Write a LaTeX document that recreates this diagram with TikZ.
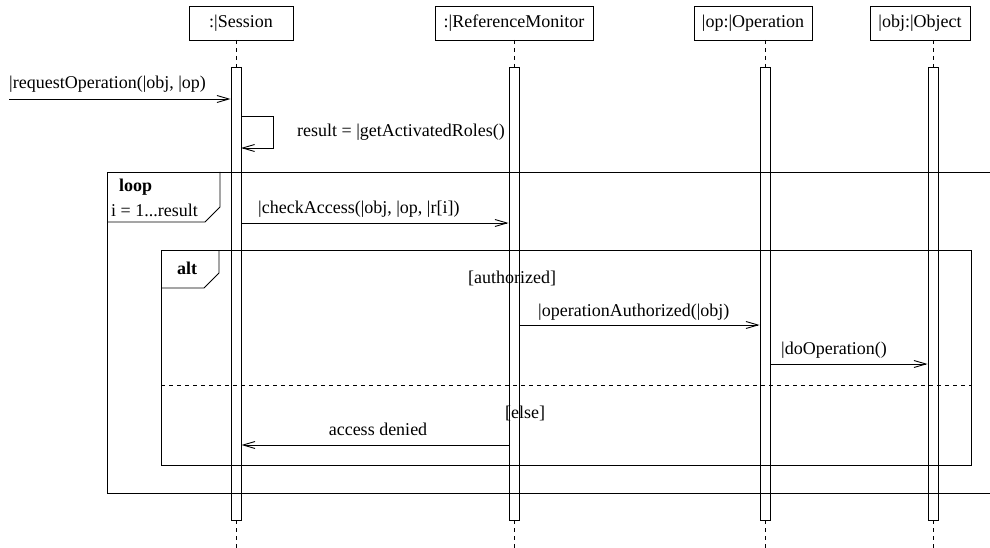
\documentclass[tikz,border=0pt]{standalone}
\usepackage{fontspec}
\setmainfont{Liberation Serif}
\usetikzlibrary{arrows.meta}
\begin{document}
\begin{tikzpicture}[x=1pt,y=-1pt,
  every node/.style={font=\fontsize{18}{20}\selectfont, inner sep=0pt},
  head/.style={draw, line width=0.9pt, minimum height=34pt, inner xsep=4pt},
  bar/.style={draw, line width=0.9pt},
  life/.style={line width=0.9pt, dash pattern=on 4pt off 4pt},
  msg/.style={line width=0.9pt, -{Straight Barb[length=12pt,width=7pt]}},
  frame/.style={line width=0.9pt},
  lbl/.style={anchor=base west},
  guard/.style={anchor=base},
  kw/.style={anchor=base west, font=\fontsize{18}{20}\selectfont\bfseries}]
\useasboundingbox (0,0) rectangle (990,548);

% lifeline heads
\node[head, minimum width=104pt] (hs) at (241,23) {:|Session};
\node[head, minimum width=158pt] (hr) at (514,23) {:|ReferenceMonitor};
\node[head, minimum width=118pt] (ho) at (753,23) {|op:|Operation};
\node[head, minimum width=100pt] (hb) at (920,23) {|obj:|Object};

% activation bars
\node[bar, minimum width=10pt, minimum height=453pt] (bs) at (236,293.5) {};
\node[bar, minimum width=10pt, minimum height=453pt] (br) at (514,293.5) {};
\node[bar, minimum width=10pt, minimum height=453pt] (bo) at (765,293.5) {};
\node[bar, minimum width=10pt, minimum height=453pt] (bb) at (933,293.5) {};

% dashed lifelines
\coordinate (es) at (236,548); \coordinate (er) at (514,548);
\coordinate (eo) at (765,548); \coordinate (eb) at (933,548);
\draw[life] (236,40) -- (bs.north);
\draw[life] (514,40) -- (br.north);
\draw[life] (765,40) -- (bo.north);
\draw[life] (933,40) -- (bb.north);
\draw[life] (bs.south) -- (es);
\draw[life] (br.south) -- (er);
\draw[life] (bo.south) -- (eo);
\draw[life] (bb.south) -- (eb);

% incoming call
\coordinate (src) at (9,99);
\draw[msg] (src) -- (bs.west |- src);
\node[lbl] at (9,89) {|requestOperation(|obj, |op)};

% self call
\draw[msg] (241,116) -- (273,116) -- (273,148) -- (241,148);
\node[lbl] at (297,137) {result = |getActivatedRoles()};

% loop fragment (open to the right)
\draw[frame] (994,172) -- (107,172) -- (107,493) -- (994,493);
\draw[frame] (107,222) -- (205,222) -- (220,207) -- (220,172);
\node[kw] at (119,192) {loop};
\node[lbl] at (111,216) {i = 1...result};

% access check
\coordinate (ca) at (241,223);
\draw[msg] (ca) -- (br.west |- ca);
\node[lbl] at (258,214) {|checkAccess(|obj, |op, |r[i])};

% alt fragment
\draw[frame] (161,250) rectangle (971,465);
\draw[frame] (161,288) -- (204,288) -- (219,273) -- (219,250);
\node[kw] at (177,274) {alt};
\draw[frame, dash pattern=on 4pt off 4pt] (161,385) -- (971,385);

\node[guard] at (512,283) {[authorized]};
\coordinate (oa) at (519,325);
\draw[msg] (oa) -- (bo.west |- oa);
\node[lbl] at (538,316) {|operationAuthorized(|obj)};

\coordinate (dop) at (770,364);
\draw[msg] (dop) -- (bb.west |- dop);
\node[lbl] at (781,354) {|doOperation()};

\node[guard] at (525,418) {[else]};
\coordinate (ad) at (509,445);
\draw[msg] (ad) -- (bs.east |- ad);
\node[guard] at (378,435) {access denied};
\end{tikzpicture}
\end{document}
